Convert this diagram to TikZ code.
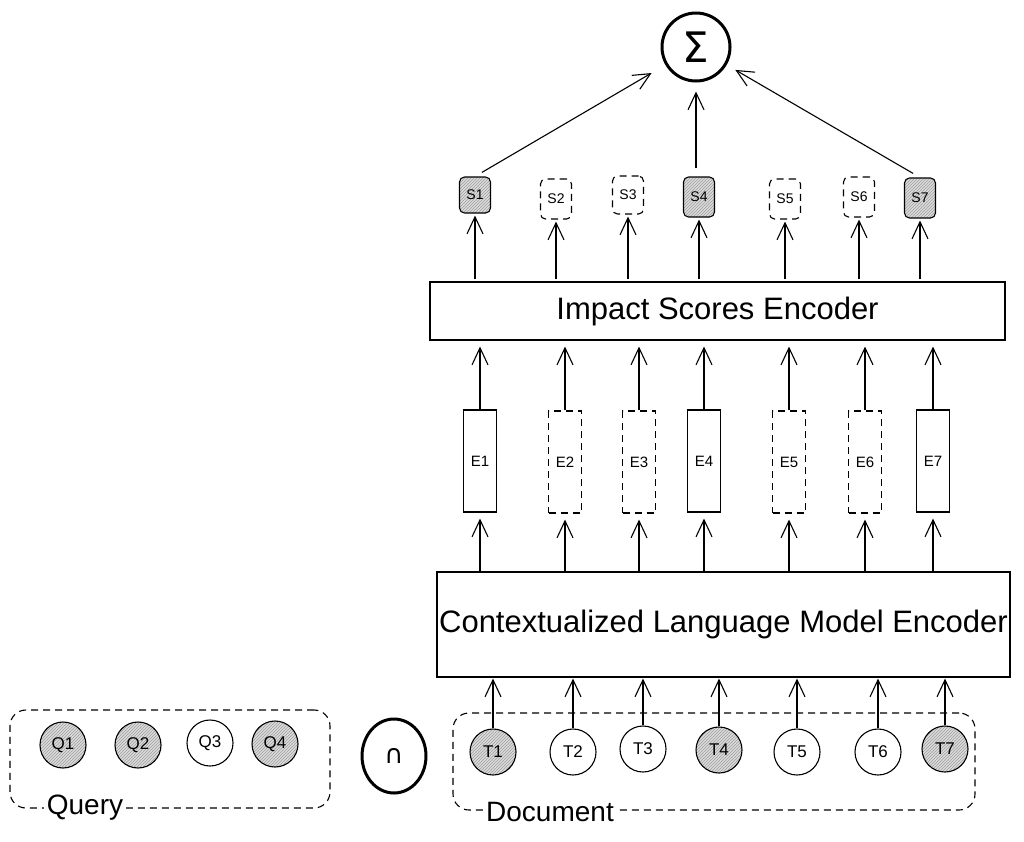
\documentclass[tikz,border=0pt]{standalone}
\usepackage{fontspec}
\setmainfont{Liberation Sans}
\newfontfamily\djv{DejaVu Sans}
\usetikzlibrary{arrows.meta,patterns,shapes.geometric}
\begin{document}
\begin{tikzpicture}[x=1pt,y=-1pt,
  arr/.style={-{Straight Barb[length=17pt,width=16pt]}, line width=1.1pt},
  hatch/.style={preaction={fill=gray!28}, pattern={north east lines}, pattern color=gray!75},
  sbox/.style={draw, rounded corners=5pt, minimum width=31pt, minimum height=40pt, inner sep=0pt, line width=1.1pt, font=\fontsize{14}{14}\selectfont},
  ebox/.style={draw, minimum width=33pt, minimum height=102pt, inner sep=0pt, line width=1.1pt, font=\fontsize{15}{15}\selectfont},
  tok/.style={draw, circle, minimum size=46pt, inner sep=0pt, line width=1.1pt, font=\fontsize{17}{17}\selectfont},
  dsh/.style={dash pattern=on 7pt off 5pt},
  encbox/.style={draw, line width=1.1pt, inner sep=0pt, font=\fontsize{31}{31}\selectfont},
  lbl/.style={fill=white, inner sep=3pt, font=\fontsize{28}{28}\selectfont}
]
\useasboundingbox (0,0) rectangle (1024,841);
\fill[white] (0,0) rectangle (1024,841);

% Sigma
\node[draw, circle, line width=3pt, minimum size=68pt, inner sep=0pt, font=\djv\fontsize{42}{42}\selectfont] (sigma) at (696,47) {Σ};

% Score boxes
\node[sbox, hatch, minimum height=36pt] (S1) at (475,195) {S1};
\node[sbox, dsh] (S2) at (556,199) {S2};
\node[sbox, dsh, minimum height=38pt] (S3) at (628,195) {S3};
\node[sbox, hatch] (S4) at (699,197) {S4};
\node[sbox, dsh] (S5) at (785,199) {S5};
\node[sbox, dsh] (S6) at (859,197) {S6};
\node[sbox, hatch] (S7) at (920,198) {S7};

% Impact Scores Encoder
\node[encbox, minimum width=575pt, minimum height=58pt] (ise) at (717.5,311) {Impact Scores Encoder};

% Embedding boxes
\node[ebox] (E1) at (480,461) {E1};
\node[ebox, dsh] (E2) at (565,462) {E2};
\node[ebox, dsh] (E3) at (639,462) {E3};
\node[ebox] (E4) at (704,461) {E4};
\node[ebox, dsh] (E5) at (789,462) {E5};
\node[ebox, dsh] (E6) at (865,462) {E6};
\node[ebox] (E7) at (933,461) {E7};

% Contextualized LM encoder
\node[encbox, minimum width=573pt, minimum height=105pt] (clm) at (723.5,624.5) {Contextualized Language Model Encoder};

% Query group
\node[draw, dsh, rounded corners=16pt, minimum width=320pt, minimum height=98pt, line width=1.1pt] (qbox) at (170,759) {};
\node[tok, hatch] (Q1) at (63,745) {Q1};
\node[tok, hatch] (Q2) at (138,745) {Q2};
\node[tok] (Q3) at (210,743) {Q3};
\node[tok, hatch] (Q4) at (275,744) {Q4};
\node[lbl] (qlbl) at (85,808) {Query};

% Intersection
\node[draw, ellipse, line width=3pt, minimum width=64pt, minimum height=74pt, inner sep=0pt, font=\djv\fontsize{26}{26}\selectfont] (cap) at (394,756) {∩};

% Document group
\node[draw, dsh, rounded corners=16pt, minimum width=522pt, minimum height=97pt, line width=1.1pt] (dbox) at (714,761.5) {};
\node[tok, hatch] (T1) at (493,752) {T1};
\node[tok] (T2) at (573,752) {T2};
\node[tok] (T3) at (643,749) {T3};
\node[tok, hatch] (T4) at (719,750) {T4};
\node[tok] (T5) at (797,752) {T5};
\node[tok] (T6) at (878,752) {T6};
\node[tok, hatch] (T7) at (945,749) {T7};
\node[lbl] (dlbl) at (550,812) {Document};

% Connectors
\foreach \i in {1,...,7} {
  \draw[arr, shorten >=1pt] (T\i.north) -- (T\i.north |- clm.south);
  \draw[arr, shorten >=6pt] (clm.north -| E\i) -- (E\i.south);
  \draw[arr, shorten >=6pt] (E\i.north) -- (E\i.north |- ise.south);
  \draw[arr, shorten <=2pt, shorten >=2pt] (ise.north -| S\i) -- (S\i.south);
}
\draw[arr, shorten <=8pt, shorten >=16pt] (S1.north) -- (sigma);
\draw[arr, shorten <=8pt, shorten >=9pt] (S4.north -| sigma) -- (sigma.south);
\draw[arr, shorten <=8pt, shorten >=10pt] (S7.north) -- (sigma);
\end{tikzpicture}
\end{document}
